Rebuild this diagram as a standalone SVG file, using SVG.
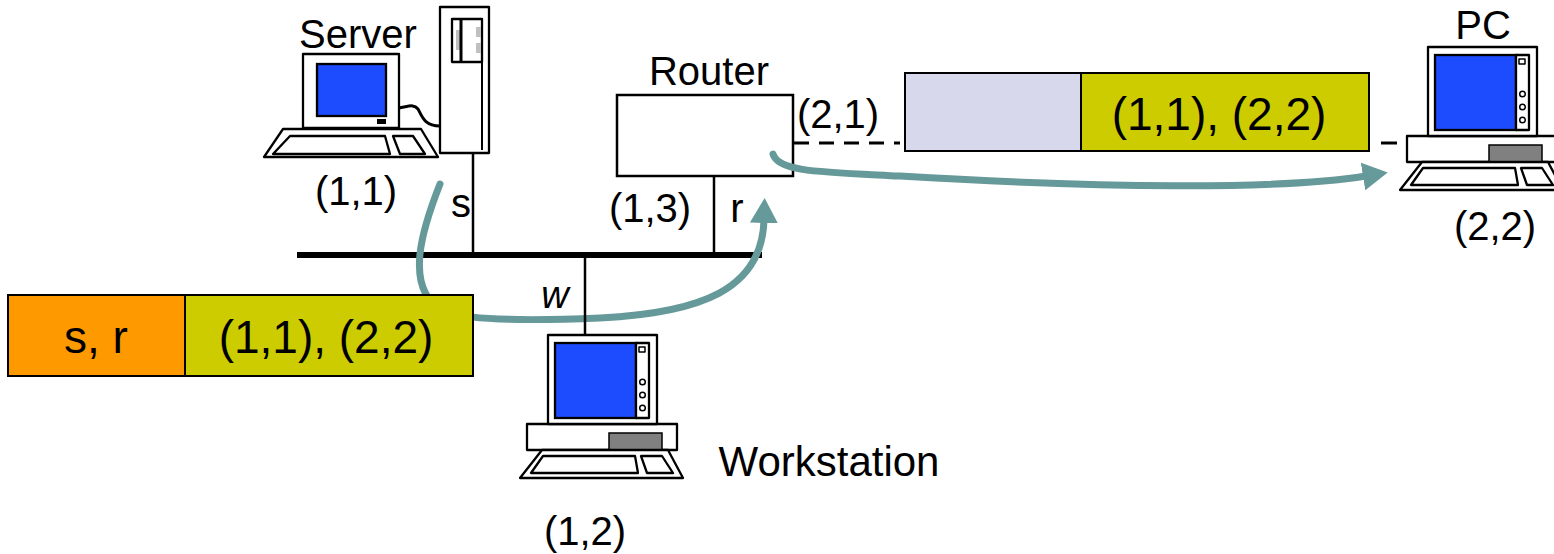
<svg xmlns="http://www.w3.org/2000/svg" xmlns:xlink="http://www.w3.org/1999/xlink" width="1554" height="554" viewBox="0 0 1554 554">
  <style>
    text { font-family: "Liberation Sans", Arial, sans-serif; fill: #000; }
    .lbl { font-size: 40px; }
    .pkt { font-size: 46px; }
    .ln { stroke: #000; stroke-width: 2.5; fill: none; }
    .dash { stroke: #000; stroke-width: 3; fill: none; }
    .out { stroke: #000; stroke-width: 2.3; fill: #fff; stroke-linejoin: round; }
    .scr { fill: #1d4cff; stroke: #000; stroke-width: 2.3; }
    .flow { stroke: #669999; stroke-width: 7; fill: none; stroke-linecap: round; }
    .box { stroke: #000; stroke-width: 2; }
  </style>
  <defs>
    <marker id="ah" markerUnits="userSpaceOnUse" markerWidth="30" markerHeight="30" viewBox="0 0 30 30" refX="3" refY="15" orient="auto">
      <path d="M0,1 L25,15 L0,29 z" fill="#669999"/>
    </marker>
    <!-- desktop computer: monitor on a base unit with keyboard -->
    <g id="desktop">
      <rect class="out" x="-21" y="89" width="150" height="26"/>
      <rect x="61" y="98" width="53" height="17" fill="#808080" stroke="#000" stroke-width="1.5"/>
      <rect class="out" x="0" y="0" width="109" height="89"/>
      <rect class="scr" x="7" y="8" width="81" height="75"/>
      <rect class="out" x="88" y="8" width="13" height="75"/>
      <rect class="out" x="91" y="12" width="6" height="5" style="stroke-width:1.5"/>
      <circle class="out" cx="94.5" cy="47" r="2.8" style="stroke-width:1.5"/>
      <circle class="out" cx="94.5" cy="60" r="2.8" style="stroke-width:1.5"/>
      <circle class="out" cx="94.5" cy="73" r="2.8" style="stroke-width:1.5"/>
      <path class="out" d="M-6,115 L120,115 L135,143 L-28,143 Z"/>
      <path class="out" d="M-5,121 L87,121 L90,138 L-17,138 Z"/>
      <path class="out" d="M93,121 L114,121 L125,138 L99,138 Z"/>
    </g>
  </defs>

  <!-- router -->
  <g id="router">
    <rect x="617" y="95" width="176" height="81" fill="#fff" stroke="#000" stroke-width="2.5"/>
    <text class="lbl" x="709" y="85" text-anchor="middle">Router</text>
    <text class="lbl" x="650" y="222" text-anchor="middle">(1,3)</text>
    <text class="lbl" x="737" y="222" text-anchor="middle">r</text>
    <text class="lbl" x="838" y="128" text-anchor="middle">(2,1)</text>
  </g>

  <!-- network segments and flows -->
  <g id="connectors">
    <line x1="297" y1="255" x2="762" y2="255" stroke="#000" stroke-width="6"/>
    <path class="flow" d="M440,184 C425,222 400,290 445,312 C470,320 530,321 600,318 C700,313 762,290 764,220" marker-end="url(#ah)"/>
    <path class="flow" d="M773,154 C778,172 820,172 900,176 C1100,188 1280,190 1366,176" marker-end="url(#ah)"/>
    <line class="ln" x1="473" y1="153" x2="473" y2="255"/>
    <line class="ln" x1="714" y1="176" x2="714" y2="255"/>
    <line class="ln" x1="585" y1="255" x2="585" y2="335"/>
    <line class="dash" x1="794" y1="143" x2="900" y2="143" stroke-dasharray="15 10"/>
    <line class="dash" x1="1381" y1="143" x2="1397" y2="143"/>
  </g>

  <!-- server: monitor, keyboard and tower -->
  <g id="server">
    <rect class="out" x="440" y="7" width="49" height="146"/>
    <line class="ln" x1="482" y1="19" x2="482" y2="150" style="stroke-width:2"/>
    <rect class="out" x="452" y="19" width="30" height="43"/>
    <rect x="456" y="30" width="4" height="20" fill="#c0c0c0"/>
    <rect x="476" y="27" width="5" height="10" fill="#c0c0c0"/>
    <rect x="476" y="43" width="5" height="10" fill="#c0c0c0"/>
    <line x1="461" y1="19" x2="461" y2="62" stroke="#000" stroke-width="3"/>
    <path d="M399,108 C410,106 414,104 418,109 C422,116 424,126 440,126" fill="none" stroke="#000" stroke-width="3"/>
    <rect class="out" x="303" y="54" width="96" height="74"/>
    <rect class="scr" x="317" y="64" width="69" height="52"/>
    <rect x="377" y="119" width="9" height="5" fill="#000"/>
    <path class="out" d="M283,129 L421,129 L438,157 L264,157 Z"/>
    <path class="out" d="M290,136 L385,136 L390,154 L273,154 Z"/>
    <path class="out" d="M393,136 L413,136 L425,154 L400,154 Z"/>
    <text class="lbl" x="358" y="48" text-anchor="middle">Server</text>
    <text class="lbl" x="356" y="205" text-anchor="middle">(1,1)</text>
    <text class="lbl" x="461" y="217" text-anchor="middle">s</text>
  </g>

  <!-- workstation -->
  <g id="workstation">
    <use xlink:href="#desktop" transform="translate(548,335)"/>
    <text x="555" y="308" text-anchor="middle" font-size="38" font-style="italic">w</text>
    <text x="829" y="476" text-anchor="middle" style="font-size:42px">Workstation</text>
    <text class="lbl" x="585" y="545" text-anchor="middle">(1,2)</text>
  </g>

  <!-- remote PC -->
  <g id="pc">
    <use xlink:href="#desktop" transform="translate(1428,47)"/>
    <text class="lbl" x="1483" y="39" text-anchor="middle">PC</text>
    <text class="lbl" x="1495" y="240" text-anchor="middle">(2,2)</text>
  </g>

  <!-- packet on the LAN -->
  <g id="packet-lan">
    <rect class="box" x="8" y="295" width="177" height="81" fill="#ff9900"/>
    <rect class="box" x="185" y="295" width="288" height="81" fill="#cccc00"/>
    <text class="pkt" x="96" y="353" text-anchor="middle">s, r</text>
    <text class="pkt" x="326" y="353" text-anchor="middle">(1,1), (2,2)</text>
  </g>

  <!-- packet on the WAN link -->
  <g id="packet-wan">
    <rect class="box" x="905" y="73" width="176" height="78" fill="#d8d8ec"/>
    <rect class="box" x="1081" y="73" width="288" height="78" fill="#cccc00"/>
    <text class="pkt" x="1219" y="130" text-anchor="middle">(1,1), (2,2)</text>
  </g>
</svg>
